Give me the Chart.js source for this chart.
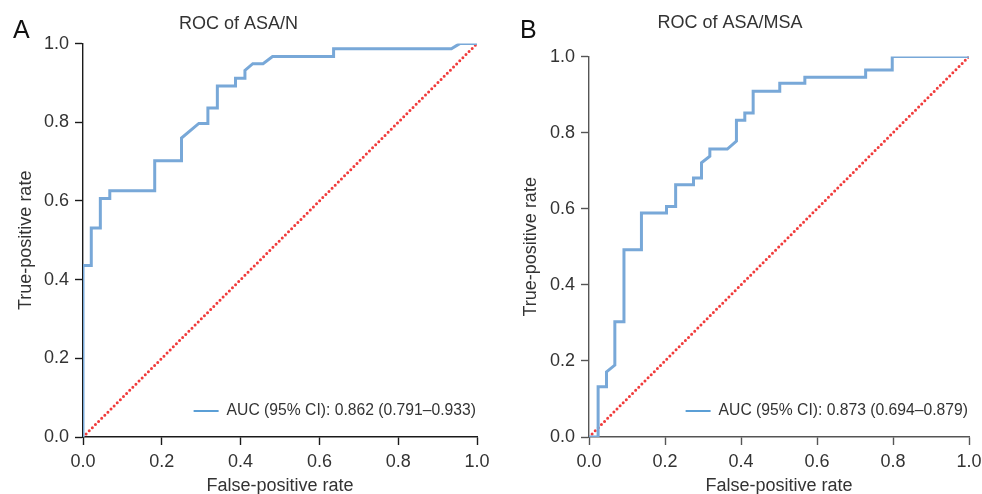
<!DOCTYPE html>
<html>
<head>
<meta charset="utf-8">
<script src="https://cdn.jsdelivr.net/npm/chart.js@4"></script>
<style>
  html, body { margin: 0; padding: 0; background: #fff; }
  .wrap { display: flex; width: 982px; height: 494px; }
  .panel { position: relative; width: 491px; height: 494px; }
  .letter { position: absolute; font-family: "Liberation Sans", Arial, sans-serif; font-size: 25px; color: #111; }
</style>
</head>
<body>
<div class="wrap">
  <div class="panel"><div class="letter" style="left:13px;top:15px;">A</div><canvas id="rocA" width="491" height="494"></canvas></div>
  <div class="panel"><div class="letter" style="left:29px;top:15px;">B</div><canvas id="rocB" width="491" height="494"></canvas></div>
</div>
<script>
// ROC of ASA/N
const fprA = [0, 0, 0.021, 0.021, 0.044, 0.044, 0.068, 0.068, 0.182, 0.182, 0.250, 0.250, 0.294, 0.317, 0.317, 0.341, 0.341, 0.387, 0.387, 0.411, 0.411, 0.431, 0.457, 0.481, 0.636, 0.636, 0.935, 0.956, 1.0];
const tprA = [0, 0.436, 0.436, 0.531, 0.531, 0.606, 0.606, 0.626, 0.626, 0.702, 0.702, 0.760, 0.797, 0.797, 0.836, 0.836, 0.892, 0.892, 0.912, 0.912, 0.932, 0.949, 0.949, 0.967, 0.967, 0.987, 0.987, 1.0, 1.0];
// ROC of ASA/MSA
const fprB = [0, 0.024, 0.024, 0.046, 0.046, 0.068, 0.068, 0.092, 0.092, 0.138, 0.138, 0.204, 0.204, 0.228, 0.228, 0.275, 0.275, 0.296, 0.296, 0.318, 0.318, 0.364, 0.388, 0.388, 0.410, 0.410, 0.432, 0.432, 0.502, 0.502, 0.568, 0.568, 0.728, 0.728, 0.798, 0.798, 1.0];
const tprB = [0, 0, 0.132, 0.132, 0.171, 0.189, 0.303, 0.303, 0.492, 0.492, 0.589, 0.589, 0.606, 0.606, 0.663, 0.663, 0.681, 0.681, 0.721, 0.738, 0.757, 0.757, 0.778, 0.833, 0.833, 0.852, 0.852, 0.909, 0.909, 0.930, 0.930, 0.946, 0.946, 0.965, 0.965, 1.0, 1.0];
const refX = [0, 1];
const refY = [0, 1];
const tickVals = [0, 0.2, 0.4, 0.6, 0.8, 1.0];

const FONT = '"Liberation Sans", Arial, sans-serif';

const insideLegend = {
  id: 'insideLegend',
  afterDraw(chart) {
    const ds = chart.data.datasets[0];
    const ctx = chart.ctx;
    const area = chart.chartArea;
    ctx.save();
    ctx.font = '15.7px ' + FONT;
    const w = ctx.measureText(ds.label).width;
    const right = area.right - 1;
    const y = area.bottom - 26;
    const tx = right - w;
    ctx.fillStyle = '#333';
    ctx.textBaseline = 'middle';
    ctx.fillText(ds.label, tx, y);
    ctx.strokeStyle = '#5b9fd6';
    ctx.lineWidth = 2;
    ctx.beginPath();
    ctx.moveTo(tx - 33, y);
    ctx.lineTo(tx - 8, y);
    ctx.stroke();
    ctx.restore();
  }
};

function points(xs, ys) {
  return xs.map((x, i) => ({ x: x, y: ys[i] }));
}

function makeRoc(id, opts) {
  const axisStyle = {
    type: 'linear', min: 0, max: 1,
    border: { color: opts.axisColor, width: 1.4 },
    grid: { drawOnChartArea: false, color: opts.axisColor, tickLength: 8, tickWidth: 1.4 },
    afterBuildTicks: (s) => { s.ticks = tickVals.map(v => ({ value: v })); },
    ticks: { color: '#333', font: { family: FONT, size: 18 }, padding: 6,
             callback: (v) => v.toFixed(1) }
  };
  return new Chart(document.getElementById(id), {
    type: 'line',
    data: {
      datasets: [
        {
          label: opts.legend,
          data: points(opts.fpr, opts.tpr),
          borderColor: '#78a8d8',
          borderWidth: 3,
          pointRadius: 0,
          tension: 0,
          fill: false
        },
        {
          label: 'reference',
          data: points(refX, refY),
          borderColor: '#f03c3c',
          borderWidth: 3,
          borderDash: [0, 4.4],
          borderCapStyle: 'round',
          pointRadius: 0
        }
      ]
    },
    options: {
      responsive: false,
      animation: false,
      layout: { padding: { left: 0, right: opts.padRight, top: 0, bottom: 0 } },
      plugins: {
        legend: { display: false },
        tooltip: { enabled: false },
        title: {
          display: true, text: opts.title, color: '#333',
          font: { family: FONT, size: 18, weight: 'normal' },
          padding: opts.titlePad
        }
      },
      scales: {
        x: Object.assign({}, axisStyle, {
          afterFit: (s) => { s.height = 57; s.paddingLeft = 0; s.paddingRight = 0; },
          title: { display: true, text: 'False-positive rate', color: '#333',
                   font: { family: FONT, size: 18 }, padding: { top: 4, bottom: -3 } }
        }),
        y: Object.assign({}, axisStyle, {
          afterFit: (s) => { s.width = opts.yWidth; },
          title: { display: true, text: 'True-positive rate', color: '#333',
                   font: { family: FONT, size: 18 }, padding: { top: opts.yTitlePad, bottom: 0 } }
        })
      }
    },
    plugins: [insideLegend]
  });
}

makeRoc('rocA', {
  fpr: fprA, tpr: tprA, title: 'ROC of ASA/N',
  legend: 'AUC (95% CI): 0.862 (0.791\u20130.933)',
  axisColor: '#1a1a1a', yWidth: 83, padRight: 14, yTitlePad: 15,
  titlePad: { top: 13, bottom: 9 }
});

makeRoc('rocB', {
  fpr: fprB, tpr: tprB, title: 'ROC of ASA/MSA',
  legend: 'AUC (95% CI): 0.873 (0.694\u20130.879)',
  axisColor: '#555', yWidth: 98, padRight: 13, yTitlePad: 29,
  titlePad: { top: 12, bottom: 23 }
});
</script>
</body>
</html>
